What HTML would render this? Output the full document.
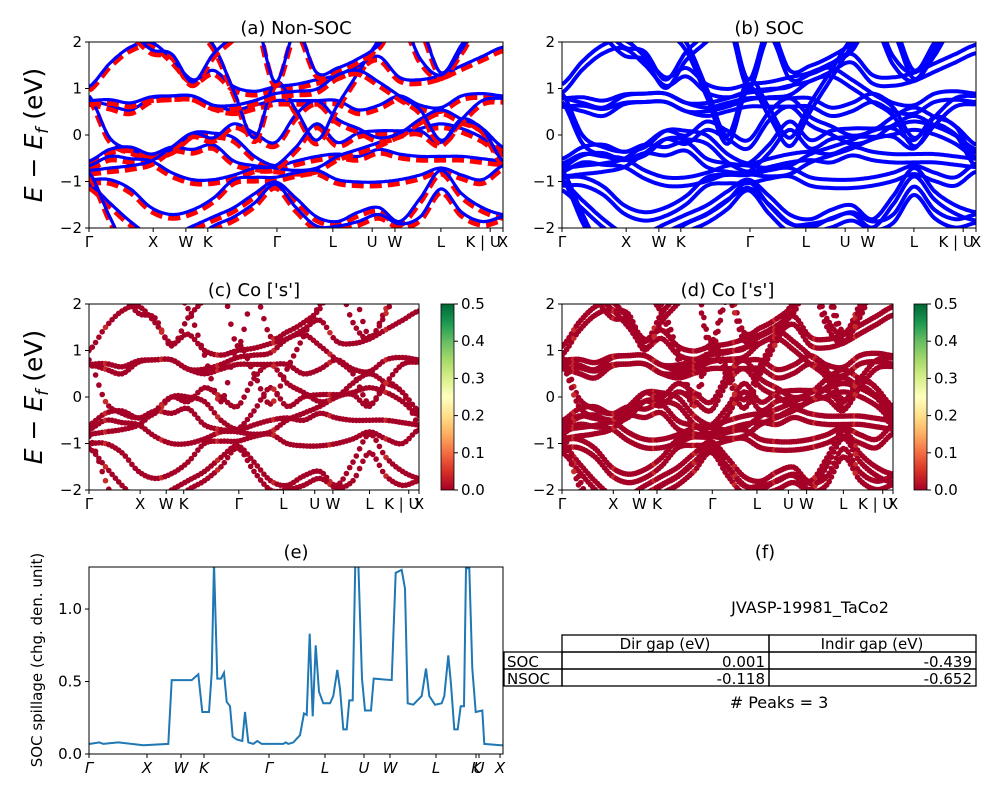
<!DOCTYPE html>
<html><head><meta charset="utf-8">
<style>
body{margin:0;background:#fff;}
svg text{font-family:"DejaVu Sans","Liberation Sans",sans-serif;fill:#000;}
</style></head>
<body>
<svg id="fig" width="1000" height="800" viewBox="0 0 1000 800" xmlns="http://www.w3.org/2000/svg">
<defs>
<linearGradient id="rdylgn" x1="0" y1="1" x2="0" y2="0">
<stop offset="0" stop-color="#a50026"/><stop offset="0.1" stop-color="#d73027"/><stop offset="0.2" stop-color="#f46d43"/><stop offset="0.3" stop-color="#fdae61"/><stop offset="0.4" stop-color="#fee08b"/><stop offset="0.5" stop-color="#ffffbf"/><stop offset="0.6" stop-color="#d9ef8b"/><stop offset="0.7" stop-color="#a6d96a"/><stop offset="0.8" stop-color="#66bd63"/><stop offset="0.9" stop-color="#1a9850"/><stop offset="1" stop-color="#006837"/>
</linearGradient>
</defs>
</svg>
<script>
// ---- data ----
const kSamples = [0,0.05,0.1,0.15,0.2,0.25,0.3,0.35,0.4,0.45,0.5,0.55,0.6,0.65,0.7,0.75,0.8,0.85,0.9,0.95,1];
const band1 = [1.0,1.5,1.85,1.95,1.6,1.15,1.35,1.0,0.9,1.0,1.05,1.15,1.25,1.45,1.65,1.2,1.15,1.25,1.45,1.65,1.85];
const band2 = [0.7,0.6,0.5,0.75,0.8,0.8,0.6,0.5,0.6,0.7,0.7,0.7,0.7,0.5,0.6,0.8,0.6,0.55,0.8,0.85,0.8];
const band3 = [0.8,-0.1,-0.35,-0.45,-0.35,0.0,0.0,-0.1,-0.5,-0.7,-0.6,-0.5,-0.45,-0.5,-0.35,-0.45,-0.5,-0.5,-0.5,-0.55,-0.6];
const band4 = [-0.6,-0.35,-0.3,-0.45,-0.3,-0.35,-0.25,-0.6,-0.7,-0.75,-0.8,-0.75,-0.5,-0.35,-0.2,0.0,0.1,0.2,0.1,-0.1,-0.4];
const band5 = [-0.7,-0.5,-0.55,-0.6,-0.85,-1.0,-1.0,-0.9,-0.75,-0.7,-0.3,0.2,-0.2,0.0,0.05,0.05,0.05,-0.2,0.3,0.1,-0.3];
const band6 = [-0.8,-0.75,-0.7,-0.6,-0.3,0.0,-0.1,0.2,0.0,-0.2,0.4,0.7,0.3,0.1,-0.1,0.0,0.3,0.5,0.3,0.1,-0.6];
const band7 = [-1.0,-1.0,-1.2,-1.6,-1.75,-1.65,-1.4,-1.0,-0.95,-0.95,-0.85,-0.8,-1.0,-1.05,-1.05,-1.0,-0.9,-0.75,-0.9,-1.0,-0.7];
const band8 = [-1.1,-1.5,-1.9,-2.2,-2.2,-2.0,-1.8,-1.6,-1.3,-1.05,-1.4,-1.8,-1.9,-1.7,-1.6,-1.9,-1.4,-0.8,-1.3,-1.6,-1.75];
const band9 = [-0.85,-1.8,-2.6,-2.6,-2.5,-2.3,-2.0,-1.8,-1.5,-1.1,-1.6,-2.0,-2.0,-1.9,-1.75,-1.95,-1.8,-1.2,-1.7,-1.9,-1.8];
const band10 = [2.5,2.5,2.5,2.5,2.4,2.3,1.9,0.9,-0.1,1.1,0.5,-0.15,0.6,1.3,2.0,2.5,2.3,1.3,1.9,2.5,2.5];
const band11 = [2.5,2.5,2.2,1.8,1.7,1.1,1.7,2.1,2.5,1.1,2.2,1.3,1.4,1.6,1.9,2.5,1.6,1.25,1.8,2.5,2.5];
const band12 = [0.7,0.72,0.65,0.78,0.8,0.8,0.6,0.6,0.7,0.85,0.9,0.95,1.25,1.35,1.1,0.8,0.5,-0.15,0.3,0.7,0.75];
const bands = [band1,band2,band3,band4,band5,band6,band7,band8,band9,band10,band11,band12];
const socSplit = [0.09,-0.09];
const bandTickPos = [0,0.155,0.234,0.287,0.454,0.589,0.684,0.739,0.850,0.969,1];
const bandTickLabels = ['Γ','X','W','K','Γ','L','U','W','L','K | U','X'];
const eTicks = [-2,-1,0,1,2];
const cbTicks = [0.0,0.1,0.2,0.3,0.4,0.5];

const spillK = [0,0.01,0.103,0.143,0.293,0.543,0.793,0.827,1.027,1.093,1.133,1.2,1.227,1.25,1.283,1.32,1.35,1.377,1.41,1.437,1.477,1.533,1.56,1.593,1.643,1.683,1.727,1.943,1.967,1.993,2.043,2.11,2.15,2.177,2.207,2.237,2.267,2.3,2.343,2.41,2.443,2.483,2.51,2.543,2.577,2.603,2.637,2.663,2.693,2.73,2.76,2.82,2.847,3.027,3.067,3.127,3.16,3.187,3.243,3.327,3.37,3.403,3.46,3.527,3.553,3.593,3.62,3.653,3.687,3.717,3.75,3.77,3.803,3.833,3.867,3.933,3.953,4.117,4.14];
const spillV = [0.07,0.07,0.08,0.07,0.08,0.06,0.07,0.51,0.51,0.55,0.29,0.29,0.56,1.32,0.52,0.52,0.56,0.36,0.33,0.12,0.10,0.09,0.29,0.08,0.07,0.09,0.07,0.07,0.08,0.07,0.08,0.13,0.28,0.27,0.83,0.26,0.75,0.43,0.35,0.35,0.40,0.58,0.45,0.17,0.17,0.37,0.37,1.32,1.32,0.52,0.30,0.30,0.52,0.51,1.25,1.27,1.14,0.35,0.34,0.40,0.59,0.40,0.34,0.35,0.40,0.68,0.48,0.17,0.17,0.33,0.33,1.28,1.28,0.59,0.29,0.30,0.07,0.06,0.06];
const spillTickPos = [0,0.58,0.92,1.15,1.80,2.36,2.75,3.01,3.47,3.87,3.90,4.11];
const spillTickLabels = ['Γ','X','W','K','Γ','L','U','W','L','K','U','X'];
const spillYTicks = [0.0,0.5,1.0];

// ---- helpers ----
const NS='http://www.w3.org/2000/svg';
const svg=document.getElementById('fig');
function el(tag,attrs,parent){const e=document.createElementNS(NS,tag);for(const k in attrs)e.setAttribute(k,attrs[k]);(parent||svg).appendChild(e);return e;}
function txt(s,x,y,size,anchor,parent,extra){const t=el('text',Object.assign({x:x,y:y,'font-size':size,'text-anchor':anchor||'middle'},extra||{}),parent);t.textContent=s;return t;}
function evalBand(b,t){const n=b.length-1;const f=t*n;let i=Math.floor(f);if(i>=n)i=n-1;const u=f-i;
 const p0=b[Math.max(i-1,0)],p1=b[i],p2=b[i+1],p3=b[Math.min(i+2,n)];
 return 0.5*((2*p1)+(-p0+p2)*u+(2*p0-5*p1+4*p2-p3)*u*u+(-p0+3*p1-3*p2+p3)*u*u*u);}

function bandPanel(cfg){
 const g=el('g',{});
 
 
 const xs=t=>cfg.x0+t*(cfg.x1-cfg.x0);
 const ys=e=>cfg.y0+(2-e)/4*(cfg.y1-cfg.y0);
 const cid='clip-'+cfg.name;
 const cp=el('clipPath',{id:cid},g);el('rect',{x:cfg.x0,y:cfg.y0,width:cfg.x1-cfg.x0,height:cfg.y1-cfg.y0},cp);
 const plot=el('g',{'clip-path':'url(#'+cid+')'},g);
 const N=300;
 function pathFor(b,off){let d='';for(let i=0;i<=N;i++){const t=i/N;d+=(i?'L':'M')+xs(t).toFixed(1)+','+ys(evalBand(b,t)+off).toFixed(1);}return d;}
 bands.forEach((b,bi)=>{
  if(cfg.mode==='nsoc'){
   const r=el('path',{d:pathFor(b,-0.03),fill:'none',stroke:'#ff0000','stroke-width':6,'stroke-dasharray':'12,6'},plot);
   
   
   const bl=el('path',{d:pathFor(b,0.04),fill:'none',stroke:'#0000ff','stroke-width':3.2},plot);
   
   
  } else if(cfg.mode==='soc'){
   socSplit.forEach(s=>{const bl=el('path',{d:pathFor(b,s),fill:'none',stroke:'#0000ff','stroke-width':4},plot);
    
    });
  } else {
   const offs=cfg.mode==='dots2'?socSplit:[0];
   offs.forEach(s=>{
    const M=cfg.mode==='dots2'?140:100;
    for(let i=0;i<=M;i++){const t=i/M;const c=el('circle',{cx:xs(t).toFixed(1),cy:ys(evalBand(b,t)+s).toFixed(1),r:2.8,fill:(i%17===5?'#c62a2a':'#a50026')},plot);
     
     }
   });
  }
 });
 el('rect',{x:cfg.x0,y:cfg.y0,width:cfg.x1-cfg.x0,height:cfg.y1-cfg.y0,fill:'none',stroke:'#000','stroke-width':1},g);
 eTicks.forEach(e=>{const y=ys(e);el('line',{x1:cfg.x0-4,x2:cfg.x0,y1:y,y2:y,stroke:'#000'},g);
  const t=txt(e<0?'−'+(-e):String(e),cfg.x0-7,y+5,15,'end',g);});
 bandTickPos.forEach((p,i)=>{const x=xs(p);el('line',{x1:x,x2:x,y1:cfg.y1,y2:cfg.y1+4,stroke:'#000'},g);
  const lx=(bandTickLabels[i]==='K | U')?x-7:x;
  const t=txt(bandTickLabels[i],lx,cfg.y1+19,15,'middle',g);});
 const tt=txt(cfg.title,(cfg.x0+cfg.x1)/2,cfg.y0-8,18,'middle',g);
 if(cfg.cbx){
  const cb=el('g',{},g);
  el('rect',{x:cfg.cbx,y:cfg.y0,width:13,height:cfg.y1-cfg.y0,fill:'url(#rdylgn)',stroke:'#000','stroke-width':0.8},cb);
  cbTicks.forEach(v=>{const y=cfg.y1-v/0.5*(cfg.y1-cfg.y0);el('line',{x1:cfg.cbx+13,x2:cfg.cbx+17,y1:y,y2:y,stroke:'#000'},cb);
   const t=txt(v.toFixed(1),cfg.cbx+20,y+5,15,'start',cb);});
 }
}
bandPanel({name:'panel-a-nonsoc',x0:89,x1:503,y0:42,y1:228,mode:'nsoc',title:'(a) Non-SOC'});
bandPanel({name:'panel-b-soc',x0:562,x1:976,y0:42,y1:228,mode:'soc',title:'(b) SOC'});
bandPanel({name:'panel-c-co-s',x0:89,x1:419,y0:304,y1:490,mode:'dots',title:'(c)  Co [\'s\']',cbx:441});
bandPanel({name:'panel-d-co-s',x0:562,x1:893,y0:304,y1:490,mode:'dots2',title:'(d) Co [\'s\']',cbx:914});

function ylab(y,name){const t=el('text',{x:0,y:0,'font-size':25,'text-anchor':'middle',transform:'translate(42,'+y+') rotate(-90)'});
 
 t.innerHTML='<tspan font-style="italic">E</tspan> − <tspan font-style="italic">E</tspan><tspan font-style="italic" font-size="17" dy="6">f</tspan><tspan dy="-6"> (eV)</tspan>';}
ylab(135,'y-axis-title-top');ylab(397,'y-axis-title-middle');

// ---- spillage panel ----
(function(){
 const g=el('g',{});
 const x0=89,x1=503,y0=567,y1=754;
 const xs=k=>x0+k/4.14*(x1-x0);
 const ys=v=>y1-v/1.29*(y1-y0);
 const cp=el('clipPath',{id:'clip-e'},g);el('rect',{x:x0,y:y0,width:x1-x0,height:y1-y0},cp);
 let d='';spillK.forEach((k,i)=>{d+=(i?'L':'M')+xs(k).toFixed(1)+','+ys(spillV[i]).toFixed(1);});
 const p=el('path',{d:d,fill:'none',stroke:'#1f77b4','stroke-width':2,'clip-path':'url(#clip-e)'},g);
 
 el('rect',{x:x0,y:y0,width:x1-x0,height:y1-y0,fill:'none',stroke:'#000'},g);
 spillYTicks.forEach(v=>{const y=ys(v);el('line',{x1:x0-4,x2:x0,y1:y,y2:y,stroke:'#000'},g);
  const t=txt(v.toFixed(1),x0-7,y+5,15,'end',g);});
 spillTickPos.forEach((k,i)=>{const x=xs(k);el('line',{x1:x,x2:x,y1:y1,y2:y1+4,stroke:'#000'},g);
  const t=txt(spillTickLabels[i],x,y1+19,15,'middle',g,{'font-style':'italic'});});
 const tt=txt('(e)',296,558,18,'middle',g);
 const yl=el('text',{x:0,y:0,'font-size':15,'text-anchor':'middle',transform:'translate(42,660) rotate(-90)'},g);yl.textContent='SOC spillage (chg. den. unit)';
 
})();

// ---- table panel ----
(function(){
 const g=el('g',{});
 let t=txt('(f)',765,558,18,'middle',g);
 t=txt('JVASP-19981_TaCo2',810,613,16,'middle',g);
 const L={stroke:'#000','stroke-width':1.3,fill:'none'};
 el('rect',Object.assign({x:562,y:635,width:207,height:17},L),g);
 el('rect',Object.assign({x:769,y:635,width:207,height:17},L),g);
 [[652,'SOC','0.001','-0.439'],[669,'NSOC','-0.118','-0.652']].forEach(r=>{
  el('rect',Object.assign({x:504,y:r[0],width:58,height:17},L),g);
  el('rect',Object.assign({x:562,y:r[0],width:207,height:17},L),g);
  el('rect',Object.assign({x:769,y:r[0],width:207,height:17},L),g);
  let a=txt(r[1],507,r[0]+15,15,'start',g);
  a=txt(r[2],765,r[0]+15,15,'end',g);
  a=txt(r[3],972,r[0]+15,15,'end',g);
 });
 t=txt('Dir gap (eV)',665,649,15,'middle',g);
 t=txt('Indir gap (eV)',872,649,15,'middle',g);
 t=txt('# Peaks = 3',779,708,16,'middle',g);
})();
</script>
</body></html>
